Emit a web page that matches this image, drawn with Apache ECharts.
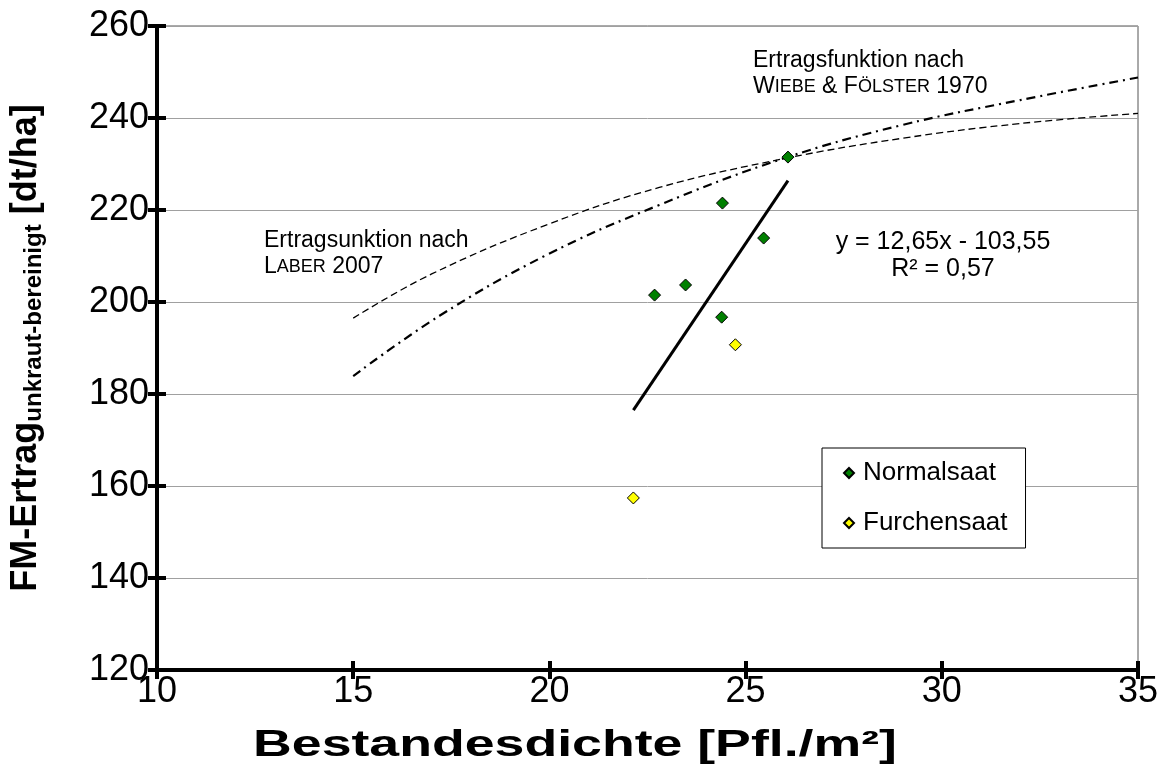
<!DOCTYPE html>
<html>
<head>
<meta charset="utf-8">
<script src="https://cdn.jsdelivr.net/npm/echarts@6/dist/echarts.min.js"></script>
<style>
  html, body { margin: 0; padding: 0; background: #fff; }
  #chart { width: 1163px; height: 767px; }
</style>
</head>
<body>
<div id="chart"></div>
<script>
// Messwerte [Bestandesdichte, Ertrag]
var normalsaat = [[22.68, 201.5], [23.47, 203.7], [24.41, 221.5], [24.39, 196.7], [25.46, 213.9], [26.08, 231.5]]
var furchensaat = [[24.74, 190.7], [22.14, 157.4]]
// lineare Regression, Endpunkte
var regression = [[22.14, 176.5], [26.08, 226.4]]
// Ertragsfunktionen
var laber = [[15, 196.5], [17, 206.1], [20, 217.0], [22.8, 224.9], [26, 231.2], [29, 235.6], [32, 238.8], [35, 241.0]]
var wiebe = [[15, 183.9], [17.2, 197.0], [19.9, 210.1], [22.8, 221.1], [26, 231.3], [29, 238.5], [32, 243.9], [35, 248.8]]

var FONT = 'Liberation Sans, Arial, sans-serif'
var grid = {left: 157, right: 25, top: 26, bottom: 97}

var chart = echarts.init(document.getElementById('chart'))
var option = {
  animation: false,
  grid: [
    Object.assign({show: true, borderColor: '#555', borderWidth: 1}, grid),
    Object.assign({}, grid)
  ],
  legend: {
    data: ['Normalsaat', 'Furchensaat'],
    orient: 'vertical',
    left: 822,
    top: 448,
    padding: [10, 18, 10, 21],
    itemGap: 20,
    itemWidth: 10,
    itemHeight: 10,
    borderColor: '#000',
    borderWidth: 1,
    backgroundColor: '#fff',
    textStyle: {fontFamily: FONT, fontSize: 26, color: '#000', lineHeight: 30, padding: [0, 0, 0, 4]}
  },
  xAxis: [
    {
      type: 'value', min: 10, max: 35, interval: 5, gridIndex: 0,
      axisLine: {lineStyle: {color: '#000', width: 4}},
      axisTick: {inside: false, length: 9, lineStyle: {color: '#000', width: 4}},
      axisLabel: {fontFamily: FONT, fontSize: 36, color: '#000', margin: 4},
      splitLine: {show: false}
    },
    {
      type: 'value', min: 10, max: 35, interval: 5, gridIndex: 1,
      axisLine: {show: false},
      axisTick: {inside: true, length: 9, lineStyle: {color: '#000', width: 4}},
      axisLabel: {show: false},
      splitLine: {show: false}
    }
  ],
  yAxis: [
    {
      type: 'value', min: 120, max: 260, interval: 20, gridIndex: 0,
      axisLine: {lineStyle: {color: '#000', width: 4}},
      axisTick: {inside: false, length: 9, lineStyle: {color: '#000', width: 4}},
      axisLabel: {fontFamily: FONT, fontSize: 36, color: '#000', margin: 8},
      splitLine: {lineStyle: {color: '#a0a0a0', width: 1}},
      name: '{m|FM-Ertrag}{s|unkraut-bereinigt}{m| [dt/ha]}',
      nameLocation: 'middle',
      nameRotate: 90,
      nameGap: 111,
      nameTextStyle: {
        rich: {
          m: {fontFamily: FONT, fontSize: 36, fontWeight: 'bold', color: '#000', lineHeight: 40, verticalAlign: 'middle'},
          s: {fontFamily: FONT, fontSize: 24, fontWeight: 'bold', color: '#000', lineHeight: 24, verticalAlign: 'bottom'}
        }
      }
    },
    {
      type: 'value', min: 120, max: 260, interval: 20, gridIndex: 1,
      axisLine: {show: false},
      axisTick: {inside: true, length: 9, lineStyle: {color: '#000', width: 4}},
      axisLabel: {show: false},
      splitLine: {show: false}
    }
  ],
  graphic: [
    {
      type: 'text', x: 575, y: 746, scaleX: 1.49,
      style: {text: 'Bestandesdichte [Pfl./m²]', fontFamily: FONT, fontSize: 36, fontWeight: 'bold', fill: '#000', align: 'center', verticalAlign: 'middle'}
    },
    {
      type: 'text', x: 264, y: 228,
      style: {
        text: 'Ertragsunktion nach\n{c|L}{s|ABER} 2007',
        fontFamily: FONT, fontSize: 23, lineHeight: 26, fill: '#000',
        rich: {c: {fontFamily: FONT, fontSize: 23, lineHeight: 26}, s: {fontFamily: FONT, fontSize: 18, lineHeight: 26}}
      }
    },
    {
      type: 'text', x: 753, y: 48,
      style: {
        text: 'Ertragsfunktion nach\n{c|W}{s|IEBE} & {c|F}{s|ÖLSTER} 1970',
        fontFamily: FONT, fontSize: 23, lineHeight: 26, fill: '#000',
        rich: {c: {fontFamily: FONT, fontSize: 23, lineHeight: 26}, s: {fontFamily: FONT, fontSize: 18, lineHeight: 26}}
      }
    },
    {
      type: 'text', x: 943, y: 229,
      style: {
        text: 'y = 12,65x - 103,55\nR² = 0,57',
        fontFamily: FONT, fontSize: 25, lineHeight: 27, fill: '#000', align: 'center'
      }
    }
  ],
  series: [
    {
      name: 'Laber', type: 'line', data: laber, smooth: 0.4, symbol: 'none', z: 2,
      lineStyle: {color: '#000', width: 1.3, type: [7, 4]}
    },
    {
      name: 'Wiebe', type: 'line', data: wiebe, smooth: 0.4, symbol: 'none', z: 2,
      lineStyle: {color: '#000', width: 2.2, type: [9, 5, 2, 5]}
    },
    {
      name: 'Regression', type: 'line', data: regression, symbol: 'none', z: 3,
      lineStyle: {color: '#000', width: 3}
    },
    {
      name: 'Normalsaat', type: 'scatter', data: normalsaat, symbol: 'diamond', symbolSize: 12, z: 5,
      itemStyle: {color: '#008000', borderColor: '#000', borderWidth: 1, opacity: 1}
    },
    {
      name: 'Furchensaat', type: 'scatter', data: furchensaat, symbol: 'diamond', symbolSize: 12, z: 5,
      itemStyle: {color: '#ffff00', borderColor: '#000', borderWidth: 1, opacity: 1}
    }
  ]
}
chart.setOption(option)
</script>
</body>
</html>
